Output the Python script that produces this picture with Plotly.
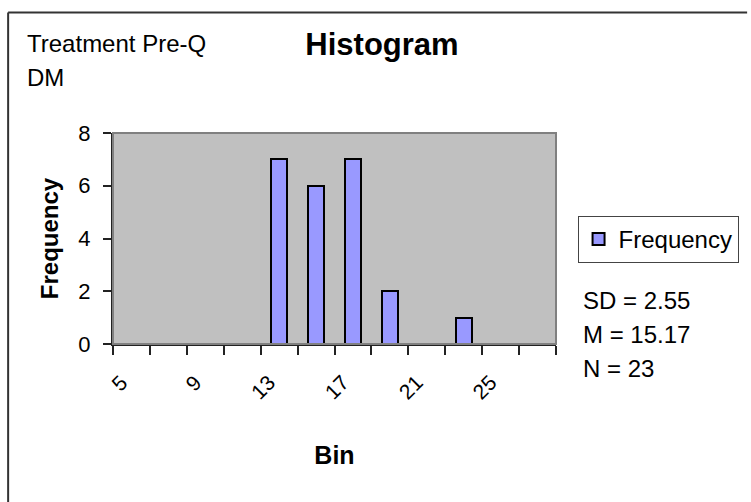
import plotly.graph_objects as go

# ---- data ----
bins = ["5", "7", "9", "11", "13", "15", "17", "19", "21", "23", "25", "27"]
frequency = [0, 0, 0, 0, 7, 6, 7, 2, 0, 1, 0, 0]
tick_text = ["5", "", "9", "", "13", "", "17", "", "21", "", "25", ""]
y_ticks = [0, 2, 4, 6, 8]
stats_lines = ["SD = 2.55", "M = 15.17", "N = 23"]
subtitle_lines = ["Treatment Pre-Q", "DM"]
chart_title = "Histogram"

FONT = "Liberation Sans, Arial, Helvetica, sans-serif"
W, H = 751, 502
L, R, T, B = 113, 565, 133, 344  # plot-area pixel box

def px_x(px):
    return (px - L) / (R - L)

def px_y(py):
    return (B - py) / (B - T)

fig = go.Figure()
fig.add_trace(go.Bar(
    x=bins, y=frequency, name="Frequency", width=0.44,
    marker=dict(color="#9999FF", line=dict(color="black", width=2)),
    showlegend=True,
))

fig.update_layout(
    width=W, height=H,
    margin=dict(l=L, r=W - R, t=T, b=H - B, pad=0),
    paper_bgcolor="white", plot_bgcolor="#C0C0C0",
    font=dict(family=FONT, color="black", size=21),
    title=dict(text="<b>%s</b>" % chart_title, x=382 / W, xanchor="center",
               y=1 - 33 / H, yanchor="top", xref="container", yref="container",
               font=dict(size=31, family=FONT, color="black")),
    showlegend=True,
    legend=dict(x=px_x(587), y=px_y(216), xanchor="left", yanchor="top",
                bgcolor="white", bordercolor="#444444", borderwidth=1,
                font=dict(size=24, family=FONT, color="black"),
                tracegroupgap=0),
    bargap=0,
)

fig.update_xaxes(
    type="category", categoryorder="array", categoryarray=bins,
    tickmode="array", tickvals=bins, ticktext=tick_text,
    tickson="boundaries", ticks="outside", ticklen=9, tickwidth=1.5,
    tickcolor="#222222", tickangle=-45, ticklabelshift=-10,
    ticklabelstandoff=16,
    tickfont=dict(size=21, family=FONT, color="black"),
    showline=True, linecolor="#222222", linewidth=2,
    showgrid=False, zeroline=False,
    title=dict(text="<b>Bin</b>", font=dict(size=25, family=FONT, color="black"),
               standoff=44),
)
fig.update_yaxes(
    range=[0, 8], tickmode="array", tickvals=y_ticks,
    ticks="outside", ticklen=8, tickwidth=1.5, tickcolor="#222222",
    ticklabelstandoff=8,
    tickfont=dict(size=22, family=FONT, color="black"),
    showline=True, linecolor="#222222", linewidth=2,
    showgrid=False, zeroline=False,
    title=dict(text="<b>Frequency</b>", font=dict(size=24, family=FONT, color="black"),
               standoff=13),
)

# plot area border (top & right grey)
fig.add_shape(type="rect", xref="paper", yref="paper", x0=0, y0=0, x1=1, y1=1,
              line=dict(color="#808080", width=2), layer="above")
# outer chart frame (left and top edges visible)
fig.add_shape(type="line", xref="paper", yref="paper",
              x0=px_x(6), y0=px_y(12.5), x1=px_x(760), y1=px_y(12.5),
              line=dict(color="#333333", width=2))
fig.add_shape(type="line", xref="paper", yref="paper",
              x0=px_x(6), y0=px_y(12.5), x1=px_x(6), y1=px_y(520),
              line=dict(color="#333333", width=2))

# text blocks, one annotation per line to reproduce the original line spacing
for i, line in enumerate(subtitle_lines):
    fig.add_annotation(text=line, xref="paper", yref="paper",
                       x=px_x(23), y=px_y(43.3 + 34.3 * i), xanchor="left",
                       yanchor="middle", align="left", showarrow=False,
                       font=dict(size=24, family=FONT, color="black"))
for i, line in enumerate(stats_lines):
    fig.add_annotation(text=line, xref="paper", yref="paper",
                       x=px_x(590), y=px_y(300.9 + 33.7 * i), xanchor="left",
                       yanchor="middle", align="left", showarrow=False,
                       font=dict(size=24, family=FONT, color="black"))

fig.write_html("out.html")
